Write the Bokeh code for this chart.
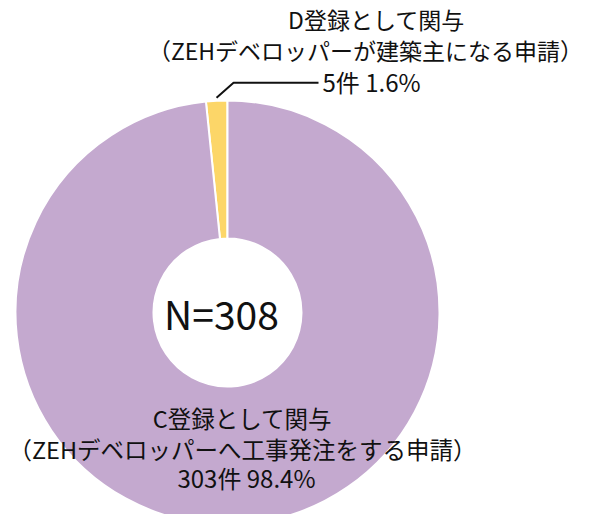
import math
from bokeh.plotting import figure
from bokeh.models import ColumnDataSource, Range1d
from bokeh.core.properties import value
from bokeh.embed import file_html
from bokeh.resources import INLINE

# ---- data ----
categories = ["C登録として関与", "D登録として関与"]
subtitles = ["（ZEHデベロッパーへ工事発注をする申請）", "（ZEHデベロッパーが建築主になる申請）"]
counts = [303, 5]
percents = [98.4, 1.6]
colors = ["#C4A9CF", "#FCD668"]
total_label = "N=308"

W, H = 587, 514
FONT = value("Noto Sans CJK JP")
TXT = "#111111"
FS = "23px"
FS_NUM = "24px"

p = figure(width=W, height=H, output_backend="svg", toolbar_location=None,
           x_range=Range1d(0, W), y_range=Range1d(0, H), min_border=0,
           background_fill_color="white", border_fill_color="white")
p.axis.visible = False
p.grid.visible = False
p.outline_line_color = None

cx, cy = 227, 202
r_out, r_in = 212, 74

# wedges: D slice starts at 12 o'clock going counter-clockwise, C fills the rest
total = sum(counts)
order = [1, 0]
start = math.pi / 2
starts, ends, cols = [], [], []
for i in order:
    span = counts[i] / total * 2 * math.pi
    starts.append(start)
    ends.append(start + span)
    cols.append(colors[i])
    start += span

src = ColumnDataSource(dict(x=[cx] * len(order), y=[cy] * len(order),
                            start=starts, end=ends, color=cols))
p.annular_wedge(x="x", y="y", inner_radius=r_in, outer_radius=r_out,
                start_angle="start", end_angle="end", fill_color="color",
                line_color="white", line_width=2, source=src)

# center label
p.text(x=[cx - 6], y=[cy], text=[total_label], text_font=FONT, text_font_size="39px",
       text_align="center", text_baseline="middle", text_color=TXT)

# D label (leader line)
d_mid = starts[0] + (ends[0] - starts[0]) / 2
lx0 = cx + (r_out + 3) * math.cos(d_mid)
ly0 = cy + (r_out + 3) * math.sin(d_mid)
p.line(x=[lx0, lx0 + 17, 318], y=[ly0, ly0 + 15, ly0 + 15], line_color="#111111", line_width=2)
p.text(x=[376, 365], y=[496, 465], text=[categories[1], subtitles[1]], text_font=FONT,
       text_font_size=FS, text_align="center", text_baseline="middle", text_color=TXT)
p.text(x=[322], y=[ly0 + 16], text=[f"{counts[1]}件 {percents[1]}%"], text_font=FONT,
       text_font_size=FS_NUM, text_align="left", text_baseline="middle", text_color=TXT)

# C label
p.text(x=[242, 242], y=[97, 66], text=[categories[0], subtitles[0]], text_font=FONT,
       text_font_size="23.5px", text_align="center", text_baseline="middle", text_color=TXT)
p.text(x=[246], y=[37], text=[f"{counts[0]}件 {percents[0]}%"], text_font=FONT,
       text_font_size=FS_NUM, text_align="center", text_baseline="middle", text_color=TXT)

open("out.html", "w").write(file_html(p, INLINE))
